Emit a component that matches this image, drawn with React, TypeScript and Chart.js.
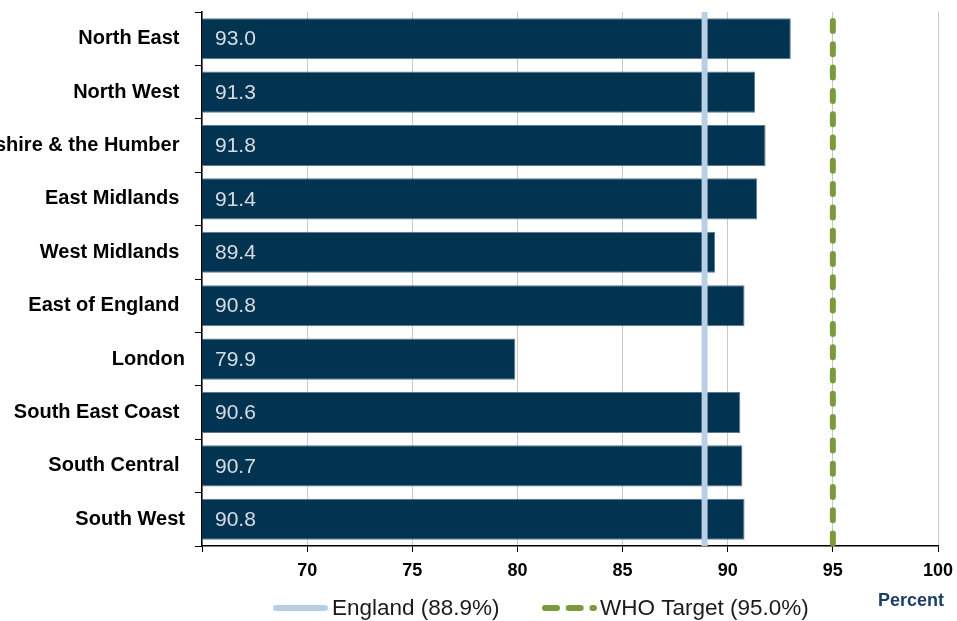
import React, { useEffect, useRef } from "react";
import { Chart, registerables } from "chart.js";

Chart.register(...registerables);

const regions: string[] = [
  "North East ",
  "North West ",
  "Yorkshire & the Humber ",
  "East Midlands ",
  "West Midlands ",
  "East of England ",
  "London",
  "South East Coast ",
  "South Central ",
  "South West",
];
const coverage: number[] = [93.0, 91.3, 91.8, 91.4, 89.4, 90.8, 79.9, 90.6, 90.7, 90.8];
const englandValue = 88.9;
const whoTarget = 95.0;
const englandLabel = "England (88.9%)";
const whoLabel = "WHO Target (95.0%)";
const axisTitle = "Percent";
const xMin = 65;
const xMax = 100;
const xStep = 5;

const FONT = 'Arial, "Liberation Sans", sans-serif';
const BAR_COLOR = "#023350";
const ENGLAND_COLOR = "#b8cfe6";
const WHO_COLOR = "#7a9a3c";

const overlayPlugin = {
  id: "overlay",
  afterDatasetsDraw(chart: any) {
    const { ctx, chartArea, scales } = chart;
    const xs = scales.x;
    const meta = chart.getDatasetMeta(0);
    ctx.save();
    ctx.font = `21px ${FONT}`;
    ctx.fillStyle = "#d5dce3";
    ctx.textAlign = "left";
    ctx.textBaseline = "middle";
    meta.data.forEach((bar: any, i: number) => {
      ctx.fillText(coverage[i].toFixed(1), chartArea.left + 13, bar.y + 1);
    });
    ctx.restore();

    const ex = xs.getPixelForValue(englandValue);
    ctx.save();
    ctx.strokeStyle = ENGLAND_COLOR;
    ctx.lineWidth = 6;
    ctx.beginPath();
    ctx.moveTo(ex, chartArea.top);
    ctx.lineTo(ex, chartArea.bottom);
    ctx.stroke();
    ctx.restore();

    const wx = xs.getPixelForValue(whoTarget);
    ctx.save();
    ctx.strokeStyle = WHO_COLOR;
    ctx.lineWidth = 6;
    ctx.lineCap = "round";
    ctx.setLineDash([10, 13.3]);
    ctx.lineDashOffset = 14.3;
    ctx.beginPath();
    ctx.moveTo(wx, chartArea.top);
    ctx.lineTo(wx, chartArea.bottom);
    ctx.stroke();
    ctx.restore();
  },
  afterDraw(chart: any) {
    const { ctx } = chart;
    ctx.save();
    ctx.strokeStyle = ENGLAND_COLOR;
    ctx.lineWidth = 6;
    ctx.lineCap = "round";
    ctx.beginPath();
    ctx.moveTo(276, 608);
    ctx.lineTo(325, 608);
    ctx.stroke();
    ctx.font = `22.5px ${FONT}`;
    ctx.fillStyle = "#1a1a1a";
    ctx.textAlign = "left";
    ctx.textBaseline = "middle";
    ctx.fillText(englandLabel, 332, 609);
    ctx.strokeStyle = WHO_COLOR;
    ctx.lineWidth = 6;
    ctx.lineCap = "round";
    ctx.setLineDash([12, 11.7]);
    ctx.beginPath();
    ctx.moveTo(545, 608);
    ctx.lineTo(594, 608);
    ctx.stroke();
    ctx.setLineDash([]);
    ctx.fillText(whoLabel, 600, 609);
    ctx.font = `bold 18px ${FONT}`;
    ctx.fillStyle = "#1f3d6b";
    ctx.fillText(axisTitle, 878, 601);
    ctx.restore();
  },
};

export default function App() {
  const ref = useRef<HTMLCanvasElement | null>(null);

  useEffect(() => {
    document.body.style.margin = "0";
    if (!ref.current) return;
    const chart = new Chart(ref.current, {
      type: "bar",
      data: {
        labels: regions,
        datasets: [
          {
            data: coverage,
            backgroundColor: BAR_COLOR,
            borderColor: "#5b7a90",
            borderWidth: 1,
            barPercentage: 0.77,
            categoryPercentage: 1,
          },
        ],
      },
      options: {
        indexAxis: "y",
        responsive: false,
        animation: false,
        devicePixelRatio: 1,
        layout: { padding: { top: 12, right: 19, left: 0, bottom: 0 } },
        plugins: {
          legend: { display: false },
          tooltip: { enabled: false },
          title: { display: false },
        },
        scales: {
          x: {
            type: "linear",
            min: xMin,
            max: xMax,
            grid: {
              color: "#c8c8c8",
              lineWidth: 1,
              tickColor: "#000",
              tickLength: 6,
              drawTicks: true,
            },
            border: { color: "#000", width: 1.5 },
            ticks: {
              stepSize: xStep,
              padding: 8,
              color: "#000",
              font: { family: FONT, size: 18, weight: "bold" },
              callback: (v: any) => (v === xMin ? "" : String(v)),
            },
            afterFit: (s: any) => {
              s.height = 75;
              s.paddingLeft = 0;
              s.paddingRight = 0;
            },
          },
          y: {
            type: "category",
            offset: true,
            grid: {
              offset: true,
              drawOnChartArea: false,
              drawTicks: true,
              tickLength: 7,
              tickColor: "#000",
              color: "#000",
            },
            border: { color: "#000", width: 1.5 },
            ticks: {
              padding: 10,
              color: "#000",
              font: { family: FONT, size: 20, weight: "bold" },
            },
            afterFit: (s: any) => {
              s.width = 202;
              s.paddingTop = 0;
              s.paddingBottom = 0;
            },
          },
        },
      },
      plugins: [overlayPlugin],
    } as any);
    return () => chart.destroy();
  }, []);

  return (
    <div style={{ position: "absolute", left: 0, top: 0, width: 957, height: 621 }}>
      <canvas ref={ref} width={957} height={621} />
    </div>
  );
}
